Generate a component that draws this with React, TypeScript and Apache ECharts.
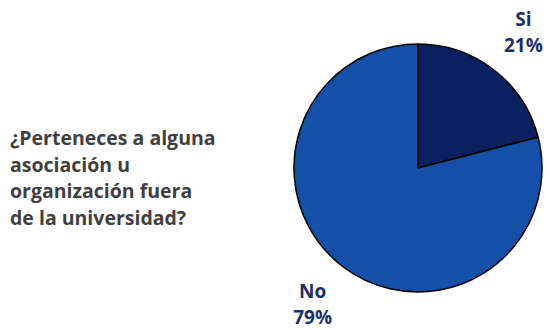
import React, { useEffect, useRef } from "react";
import * as echarts from "echarts";

const categories = ["Si", "No"];
const values = [21, 79];
const sliceColors = ["#0A205F", "#1450A8"];
const questionLines = [
  "¿Perteneces a alguna",
  "asociación u",
  "organización fuera",
  "de la universidad?",
];

const CX = 418;
const CY = 168;
const R = 124;
const LABEL_R = 172;

export default function App() {
  const ref = useRef<HTMLDivElement>(null);
  useEffect(() => {
    if (!ref.current) return;
    const chart = echarts.init(ref.current, null, { renderer: "svg" });
    const total = values.reduce((a, b) => a + b, 0);
    chart.setOption({
      animation: false,
      backgroundColor: "#ffffff",
      graphic: [
        {
          type: "text",
          left: 10,
          top: 124,
          style: {
            text: questionLines.join("\n"),
            font: "bold 19.5px 'Open Sans'",
            lineHeight: 26.7,
            fill: "#3F3F3F",
          },
        },
      ],
      series: [
        {
          type: "pie",
          center: [CX, CY],
          radius: R,
          startAngle: 90,
          clockwise: true,
          avoidLabelOverlap: false,
          data: categories.map((c, i) => ({
            name: c,
            value: values[i],
            itemStyle: { color: sliceColors[i] },
          })),
          itemStyle: { borderColor: "#000000", borderWidth: 1.5 },
          label: {
            show: true,
            position: "outside",
            formatter: (p: any) => `${p.name}\n${p.value}%`,
            fontFamily: "Open Sans",
            fontWeight: "bold",
            fontSize: 19,
            lineHeight: 26,
            color: "#1C2F6B",
            align: "center",
          },
          labelLine: { show: false, length: 48, length2: 0 },
          labelLayout: (p: any) => {
            const i = p.dataIndex;
            let before = 0;
            for (let k = 0; k < i; k++) before += values[k];
            const mid = ((before + values[i] / 2) / total) * Math.PI * 2;
            return {
              x: CX + LABEL_R * Math.sin(mid),
              y: CY - LABEL_R * Math.cos(mid),
              align: "center",
              verticalAlign: "middle",
            };
          },
          emphasis: { disabled: true },
        },
      ],
    });
    return () => chart.dispose();
  }, []);
  return (
    <div
      ref={ref}
      style={{ position: "fixed", left: 0, top: 0, width: 550, height: 330 }}
    />
  );
}
